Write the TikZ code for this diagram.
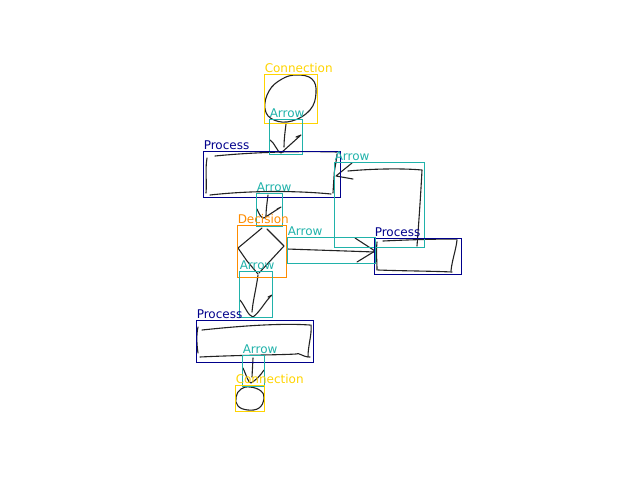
\documentclass[tikz,border=0pt]{standalone}
\usepackage{fontspec}
\setmainfont{DejaVu Sans}
\usetikzlibrary{fit}
\definecolor{anngold}{RGB}{255,212,0}
\definecolor{annteal}{RGB}{32,178,170}
\definecolor{annnavy}{RGB}{0,0,139}
\definecolor{annorange}{RGB}{255,140,0}
\definecolor{ink}{RGB}{35,35,35}
\begin{document}
\begin{tikzpicture}[x=1pt,y=-1pt,
  sk/.style={draw=ink,line width=1.1pt,line cap=round,line join=round},
  lab/.style={anchor=base west,inner sep=0pt,xshift=1pt,yshift=1.5pt,
    font=\fontsize{12}{12}\selectfont}]
\useasboundingbox (0,0) rectangle (640,480);

% ---------- hand-drawn strokes ----------
% start connector (top)
\draw[sk] plot[smooth cycle,tension=0.7] coordinates
  {(297,75) (312,79) (316,93) (310,110) (292,121) (274,120) (265,109) (269,91) (282,79)};
% arrow: start -> first process
\draw[sk] (286,124) .. controls (285,132) and (284,140) .. (284,147);
\draw[sk] (270,140) .. controls (275,143) and (277,152) .. (281,153) -- (301,135) -- (296,137);

% first process
\draw[sk] (215,156) .. controls (255,152) and (300,151) .. (337,152);
\draw[sk] (207,158) .. controls (205,170) and (207,182) .. (206,193);
\draw[sk] (210,195) .. controls (255,190) and (300,191) .. (331,194);
\draw[sk] (337,154) .. controls (336,165) and (334,170) .. (334,177) -- (333,193);

% loop arrow: second process -> first process
\draw[sk] (417,246) .. controls (419,220) and (421,190) .. (422,170)
  .. controls (400,168) and (370,169) .. (348,171);
\draw[sk] (352,163) -- (336,176) -- (353,179);

% second process
\draw[sk] (383,241) .. controls (405,240) and (430,239) .. (457,239);
\draw[sk] (377,242) .. controls (376,252) and (377,262) .. (377,270);
\draw[sk] (378,270) .. controls (405,271) and (430,271) .. (452,272);
\draw[sk] (457,240) .. controls (456,250) and (452,260) .. (451,271);

% arrow: first process -> decision
\draw[sk] (268,195) .. controls (267,203) and (266,210) .. (266,216);
\draw[sk] (257,209) .. controls (259,214) and (261,218) .. (264,218) -- (281,207) -- (277,209);

% decision diamond
\draw[sk] (262,228) -- (238,248) -- (247,261) -- (258,274);
\draw[sk] (267,229) -- (284,246) -- (259,273);

% arrow: decision -> second process
\draw[sk] (287,249) -- (375,252);
\draw[sk] (355,238) -- (375,251) -- (357,262);

% arrow: decision -> third process
\draw[sk] (258,275) .. controls (256,290) and (253,300) .. (252,312);
\draw[sk] (240,300) .. controls (245,306) and (248,316) .. (253,317)
  .. controls (260,312) and (266,300) .. (272,295) -- (268,297);

% third process
\draw[sk] (202,330) .. controls (240,326) and (280,323) .. (310,325);
\draw[sk] (198,327) .. controls (196,336) and (197,346) .. (198,353);
\draw[sk] (200,357) .. controls (240,355) and (280,355) .. (296,354)
  .. controls (299,352) and (302,357) .. (310,357);
\draw[sk] (311,325) .. controls (312,335) and (308,345) .. (308,357);

% arrow: third process -> end connector
\draw[sk] (253,358) -- (252,377);
\draw[sk] (243,368) .. controls (246,374) and (248,383) .. (251,383)
  .. controls (256,380) and (260,376) .. (264,370);

% end connector (bottom)
\draw[sk] plot[smooth cycle,tension=0.7] coordinates
  {(250,387) (261,391) (264,399) (259,408) (248,410) (238,406) (236,397) (241,389)};

% ---------- annotation boxes ----------
\node[fit={(264,74) (317,123)},draw=anngold,line width=0.9pt,inner sep=0pt,
  label={[lab,text=anngold]north west:Connection}] (conn1) {};
\node[fit={(269,119) (302,154)},draw=annteal,line width=0.9pt,inner sep=0pt,
  label={[lab,text=annteal]north west:Arrow}] (arr1) {};
\node[fit={(203,151) (340,197)},draw=annnavy,line width=0.9pt,inner sep=0pt,
  label={[lab,text=annnavy]north west:Process}] (proc1) {};
\node[fit={(334,162) (424,247)},draw=annteal,line width=0.9pt,inner sep=0pt,
  label={[lab,text=annteal]north west:Arrow}] (arr2) {};
\node[fit={(374,238) (461,274)},draw=annnavy,line width=0.9pt,inner sep=0pt,
  label={[lab,text=annnavy]north west:Process}] (proc2) {};
\node[fit={(256,193) (282,226)},draw=annteal,line width=0.9pt,inner sep=0pt,
  label={[lab,text=annteal]north west:Arrow}] (arr3) {};
\node[fit={(237,225) (286,277)},draw=annorange,line width=0.9pt,inner sep=0pt,
  label={[lab,text=annorange]north west:Decision}] (dec) {};
\node[fit={(287,237) (375,263)},draw=annteal,line width=0.9pt,inner sep=0pt,
  label={[lab,text=annteal]north west:Arrow}] (arrm) {};
\node[fit={(239,271) (272,317)},draw=annteal,line width=0.9pt,inner sep=0pt,
  label={[lab,text=annteal]north west:Arrow}] (arr4) {};
\node[fit={(196,320) (313,362)},draw=annnavy,line width=0.9pt,inner sep=0pt,
  label={[lab,text=annnavy]north west:Process}] (proc3) {};
\node[fit={(242,355) (264,386)},draw=annteal,line width=0.9pt,inner sep=0pt,
  label={[lab,text=annteal]north west:Arrow}] (arr5) {};
\node[fit={(235,385) (264,411)},draw=anngold,line width=0.9pt,inner sep=0pt,
  label={[lab,text=anngold]north west:Connection}] (conn2) {};
\end{tikzpicture}
\end{document}
